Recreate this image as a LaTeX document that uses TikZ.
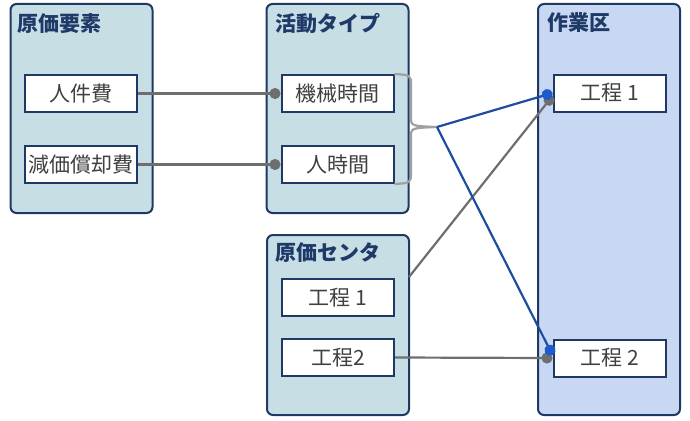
\documentclass[tikz,border=0pt]{standalone}
\usepackage{fontspec}
\newfontfamily\jp{Noto Sans CJK JP}
\usetikzlibrary{arrows.meta,calc}
\definecolor{navy}{RGB}{31,56,100}
\definecolor{tealfill}{RGB}{198,222,228}
\definecolor{bluefill}{RGB}{200,216,243}
\definecolor{titlec}{RGB}{31,58,105}
\definecolor{txtc}{RGB}{64,64,64}
\definecolor{linegray}{RGB}{110,110,110}
\definecolor{bracegray}{RGB}{160,160,160}
\definecolor{lineblue}{RGB}{30,76,160}
\definecolor{dotblue}{RGB}{30,90,205}
\tikzset{
  grp/.style={draw=navy, line width=2pt, rounded corners=6pt, fill=tealfill, minimum width=142pt, inner sep=0pt},
  grpb/.style={grp, fill=bluefill},
  inbox/.style={draw=navy, line width=2pt, fill=white, minimum width=112pt, minimum height=37pt, inner sep=0pt, font=\jp\fontsize{21}{23}\selectfont, text=txtc},
  ttl/.style={anchor=west, inner sep=0pt, font=\jp\bfseries\fontsize{21}{23}\selectfont, text=titlec},
  conn/.style={draw=linegray, line width=2.2pt, -{Circle[length=11pt,width=11pt,fill=linegray]}},
  bconn/.style={draw=lineblue, line width=2.2pt, -{Circle[length=11pt,width=11pt,fill=dotblue,color=dotblue]}},
  bracel/.style={draw=bracegray, line width=2.2pt},
}
\begin{document}
\begin{tikzpicture}[x=1pt,y=-1pt]
\useasboundingbox (0,0) rectangle (690,420);
% groups
\node[grp, minimum height=209pt] (ge) at (81.5,108.5) {};
\node[grp, minimum height=209pt] (ga) at (337.5,108.5) {};
\node[grpb, minimum height=411pt] (gw) at (609,209.5) {};
\node[grp, minimum height=180pt] (gc) at (338,325) {};
% titles
\node[ttl] (te) at (17,24) {原価要素};
\node[ttl] (ta) at (275,23) {活動タイプ};
\node[ttl] (tw) at (547,23) {作業区};
\node[ttl] (tc) at (275,253) {原価センタ};
% inner boxes
\node[inbox] (e1) at (81,93.5) {人件費};
\node[inbox] (e2) at (81,164.5) {減価償却費};
\node[inbox] (a1) at (337.5,93.5) {機械時間};
\node[inbox] (a2) at (337.5,164.5) {人時間};
\node[inbox] (w1) at (609.5,93) {工程 1};
\node[inbox] (w2) at (609.5,358) {工程 2};
\node[inbox] (c1) at (338,297.5) {工程 1};
\node[inbox] (c2) at (338,357.5) {工程2};
% connectors
\coordinate (tip) at (437,127);
\coordinate (ccout) at (409,277);
\draw[conn] (e1.east) -- (a1.west);
\draw[conn] (e2.east) -- (a2.west);
\draw[bracel] (a1.north east) .. controls (411,75) .. (411,86) -- (411,117)
  .. controls (411,126) .. (tip) .. controls (411,128) .. (411,137) -- (411,172)
  .. controls (411,183) .. (a2.south east);
\draw[conn] (ccout) -- ($(w1.west)+(0,3)$);
\draw[conn] (c2.east) -- (w2.west);
\draw[bconn] (tip) -- (w1.west);
\draw[bconn] (tip) -- ($(w2.west)+(0,-3)$);
\end{tikzpicture}
\end{document}
